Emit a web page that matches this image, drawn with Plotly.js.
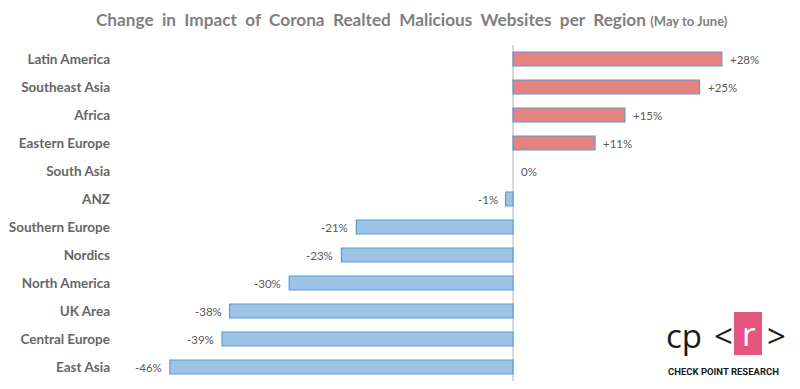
<!DOCTYPE html>
<html><head><meta charset="utf-8">
<script src="https://cdn.plot.ly/plotly-3.0.1.min.js"></script>
<style>html,body{margin:0;padding:0;background:#fff}#c{width:800px;height:389px}</style>
</head><body><div id="c"></div>
<script>
const regions = ["Latin America","Southeast Asia","Africa","Eastern Europe","South Asia","ANZ","Southern Europe","Nordics","North America","UK Area","Central Europe","East Asia"];
const changePct = [28,25,15,11,0,-1,-21,-23,-30,-38,-39,-46];
const labels = changePct.map(v => (v > 0 ? "+" : "") + v + "%");

const L = 118, R = 780, T = 45, B = 381, W = 800, H = 389;
const px = x => (x - L) / (R - L);
const py = y => (B - y) / (B - T);

const colors = changePct.map(v => v > 0 ? "#E4837F" : "#9DC3E6");
const outlineW = changePct.map(v => v === 0 ? 0 : 1.2);

const trace = {
  type: "bar", orientation: "h",
  y: regions, x: changePct,
  marker: {color: colors, line: {color: "#5B9BD5", width: outlineW}},
  width: 0.5, hoverinfo: "none"
};

const annotations = changePct.map((v, i) => ({
  x: v, y: regions[i], xref: "x", yref: "y",
  text: labels[i], showarrow: false,
  xanchor: v >= 0 ? "left" : "right",
  xshift: v >= 0 ? 6 : -6,
  font: {family: "Lato, sans-serif", size: 11.5, color: "#595959"}
}));

annotations.push({
  xref: "paper", yref: "paper", x: px(412), y: py(19), xanchor: "center", yanchor: "middle",
  text: "<b>Change  in  Impact  of  Corona  Realted  Malicious  Websites  per  Region</b> <b><span style='font-size:13px'>(May to June)</span></b>",
  showarrow: false, font: {family: "Lato, sans-serif", size: 17.2, color: "#7F7F7F"}
});
// logo text
annotations.push({xref:"paper",yref:"paper",x:px(664),y:py(335),xanchor:"left",yanchor:"middle",
  text:"cp",showarrow:false,font:{family:"Open Sans, sans-serif",size:33,color:"#1a1a1a"}});
annotations.push({xref:"paper",yref:"paper",x:px(712),y:py(335),xanchor:"left",yanchor:"middle",
  text:"&lt;",showarrow:false,font:{family:"Open Sans, sans-serif",size:33,color:"#1a1a1a"}});
annotations.push({xref:"paper",yref:"paper",x:px(748.5),y:py(333),xanchor:"center",yanchor:"middle",
  text:"r",showarrow:false,font:{family:"Open Sans, sans-serif",size:33,color:"#ffffff"}});
annotations.push({xref:"paper",yref:"paper",x:px(765),y:py(335),xanchor:"left",yanchor:"middle",
  text:"&gt;",showarrow:false,font:{family:"Open Sans, sans-serif",size:33,color:"#1a1a1a"}});
annotations.push({xref:"paper",yref:"paper",x:px(723),y:py(371),xanchor:"center",yanchor:"middle",
  text:"<b>CHECK POINT RESEARCH</b>",showarrow:false,font:{family:"Roboto, sans-serif",size:9.5,color:"#1a1a1a"}});

const layout = {
  width: W, height: H,
  margin: {l: L, r: W - R, t: T, b: H - B, pad: 0},
  paper_bgcolor: "#fff", plot_bgcolor: "#fff",
  showlegend: false,
  xaxis: {range: [(L - 513) / 7.46, (R - 513) / 7.46], showgrid: false, showticklabels: false,
          zeroline: true, zerolinecolor: "#D9D9D9", zerolinewidth: 1.5, fixedrange: true},
  yaxis: {autorange: "reversed", showgrid: false, zeroline: false, ticks: "", ticklabelstandoff: 7,
          tickfont: {family: "Lato, sans-serif", size: 13.5, color: "#666666", weight: "bold"}, fixedrange: true},
  shapes: [{type: "rect", xref: "paper", yref: "paper", x0: px(734), x1: px(762), y0: py(312), y1: py(355),
            fillcolor: "#E5567F", line: {width: 0}, layer: "below"}],
  annotations: annotations
};

Plotly.newPlot("c", [trace], layout, {displayModeBar: false, staticPlot: true});
</script></body></html>
